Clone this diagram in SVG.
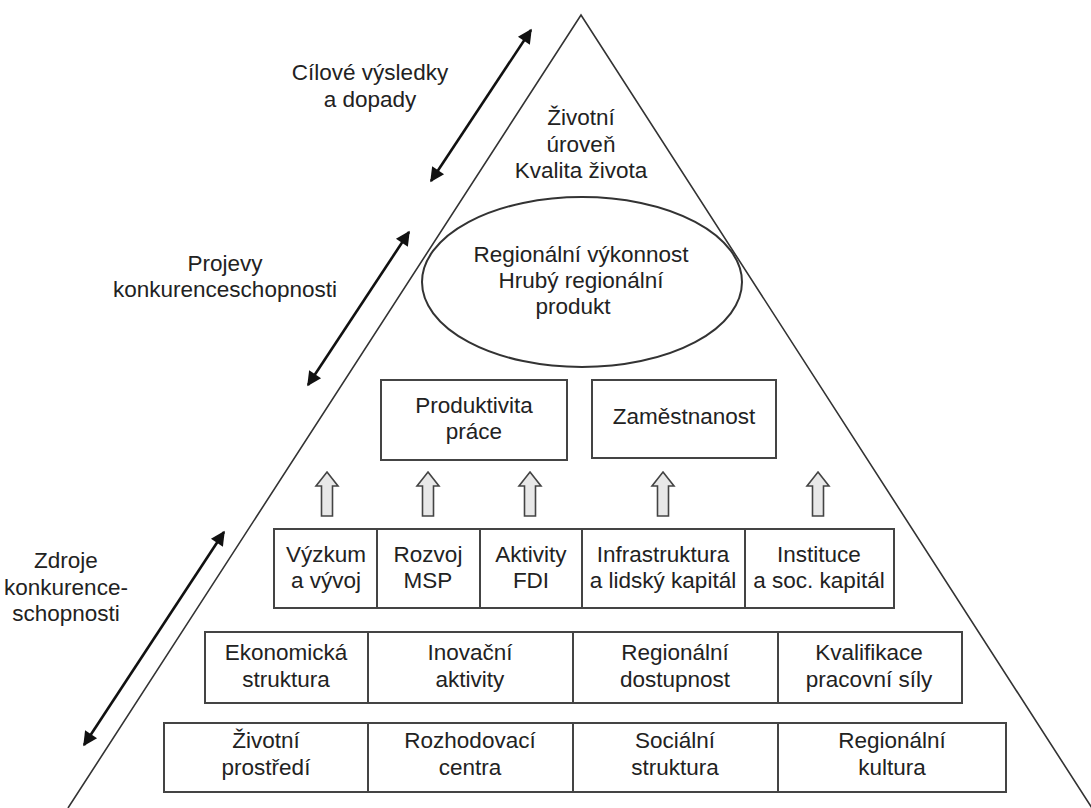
<svg xmlns="http://www.w3.org/2000/svg" xmlns:xlink="http://www.w3.org/1999/xlink" width="1091" height="808" viewBox="0 0 1091 808">
<style>
text{font-family:"Liberation Sans",Arial,sans-serif;font-size:22.5px;fill:#222;text-anchor:middle}
.box{fill:#fff;stroke:#444;stroke-width:2}
.div{stroke:#444;stroke-width:2}
.tri{fill:none;stroke:#333;stroke-width:1.6}
.dbl{stroke:#111;stroke-width:2.6;fill:none;marker-start:url(#ah);marker-end:url(#ah)}
.up{fill:#e8e8e8;stroke:#444;stroke-width:1.6}
</style>
<defs>
<marker id="ah" viewBox="0 0 10 10" refX="9" refY="5" markerWidth="7" markerHeight="5.5" orient="auto-start-reverse" markerUnits="strokeWidth">
<path d="M0,0 L10,5 L0,10 z" fill="#111"/>
</marker>
<path id="uparrow" d="M0,0 L11,14 L5.5,14 L5.5,44 L-5.5,44 L-5.5,14 L-11,14 Z"/>
</defs>
<rect width="1091" height="808" fill="#fff"/>
<g id="pyramid">
<path class="tri" d="M68,808 L581,15 L1092,808"/>
</g>
<g id="connectors">
<line class="dbl" x1="431" y1="181" x2="531" y2="30"/>
<line class="dbl" x1="308" y1="385" x2="409" y2="232"/>
<line class="dbl" x1="84" y1="745" x2="224" y2="532"/>
<use class="up" xlink:href="#uparrow" href="#uparrow" x="327" y="472"/>
<use class="up" xlink:href="#uparrow" href="#uparrow" x="428" y="472"/>
<use class="up" xlink:href="#uparrow" href="#uparrow" x="530" y="472"/>
<use class="up" xlink:href="#uparrow" href="#uparrow" x="663" y="472"/>
<use class="up" xlink:href="#uparrow" href="#uparrow" x="818" y="472"/>
</g>
<g id="label-cilove">
<text x="370" y="80">Cílové výsledky</text>
<text x="370" y="107">a dopady</text>
</g>
<g id="label-projevy">
<text x="225" y="271">Projevy</text>
<text x="225" y="297">konkurenceschopnosti</text>
</g>
<g id="label-zdroje">
<text x="66" y="568">Zdroje</text>
<text x="66" y="595">konkurence-</text>
<text x="66" y="621">schopnosti</text>
</g>
<g id="node-zivotni-uroven">
<text x="581" y="125">Životní</text>
<text x="581" y="152">úroveň</text>
<text x="581" y="178">Kvalita života</text>
</g>
<g id="node-vykonnost">
<ellipse cx="582" cy="282" rx="160" ry="85" fill="#fff" stroke="#333" stroke-width="2"/>
<text x="581" y="262">Regionální výkonnost</text>
<text x="581" y="288">Hrubý regionální</text>
<text x="573" y="314">produkt</text>
</g>
<g id="node-produktivita">
<rect class="box" x="381" y="380" width="186" height="80"/>
<text x="474" y="413">Produktivita</text>
<text x="474" y="439">práce</text>
</g>
<g id="node-zamestnanost">
<rect class="box" x="592" y="380" width="184" height="78"/>
<text x="684" y="424">Zaměstnanost</text>
</g>
<g id="row3">
<rect class="box" x="274" y="529" width="620" height="79"/>
<line class="div" x1="377" y1="529" x2="377" y2="608"/>
<line class="div" x1="480" y1="529" x2="480" y2="608"/>
<line class="div" x1="582" y1="529" x2="582" y2="608"/>
<line class="div" x1="745" y1="529" x2="745" y2="608"/>
<g id="node-vyzkum"><text x="326" y="562">Výzkum</text><text x="326" y="588">a vývoj</text></g>
<g id="node-msp"><text x="428" y="562">Rozvoj</text><text x="428" y="588">MSP</text></g>
<g id="node-fdi"><text x="531" y="562">Aktivity</text><text x="531" y="588">FDI</text></g>
<g id="node-infra"><text x="663" y="562">Infrastruktura</text><text x="663" y="588">a lidský kapitál</text></g>
<g id="node-instituce"><text x="819" y="562">Instituce</text><text x="819" y="588">a soc. kapitál</text></g>
</g>
<g id="row2">
<rect class="box" x="205" y="632" width="757" height="71"/>
<line class="div" x1="368" y1="632" x2="368" y2="703"/>
<line class="div" x1="573" y1="632" x2="573" y2="703"/>
<line class="div" x1="778" y1="632" x2="778" y2="703"/>
<g id="node-ekonomicka"><text x="286" y="660">Ekonomická</text><text x="286" y="687">struktura</text></g>
<g id="node-inovacni"><text x="470" y="660">Inovační</text><text x="470" y="687">aktivity</text></g>
<g id="node-dostupnost"><text x="675" y="660">Regionální</text><text x="675" y="687">dostupnost</text></g>
<g id="node-kvalifikace"><text x="869" y="660">Kvalifikace</text><text x="869" y="687">pracovní síly</text></g>
</g>
<g id="row1">
<rect class="box" x="164" y="723" width="842" height="69"/>
<line class="div" x1="368" y1="723" x2="368" y2="792"/>
<line class="div" x1="573" y1="723" x2="573" y2="792"/>
<line class="div" x1="778" y1="723" x2="778" y2="792"/>
<g id="node-prostredi"><text x="266" y="748">Životní</text><text x="266" y="775">prostředí</text></g>
<g id="node-centra"><text x="470" y="748">Rozhodovací</text><text x="470" y="775">centra</text></g>
<g id="node-socialni"><text x="675" y="748">Sociální</text><text x="675" y="775">struktura</text></g>
<g id="node-kultura"><text x="892" y="748">Regionální</text><text x="892" y="775">kultura</text></g>
</g>
</svg>
